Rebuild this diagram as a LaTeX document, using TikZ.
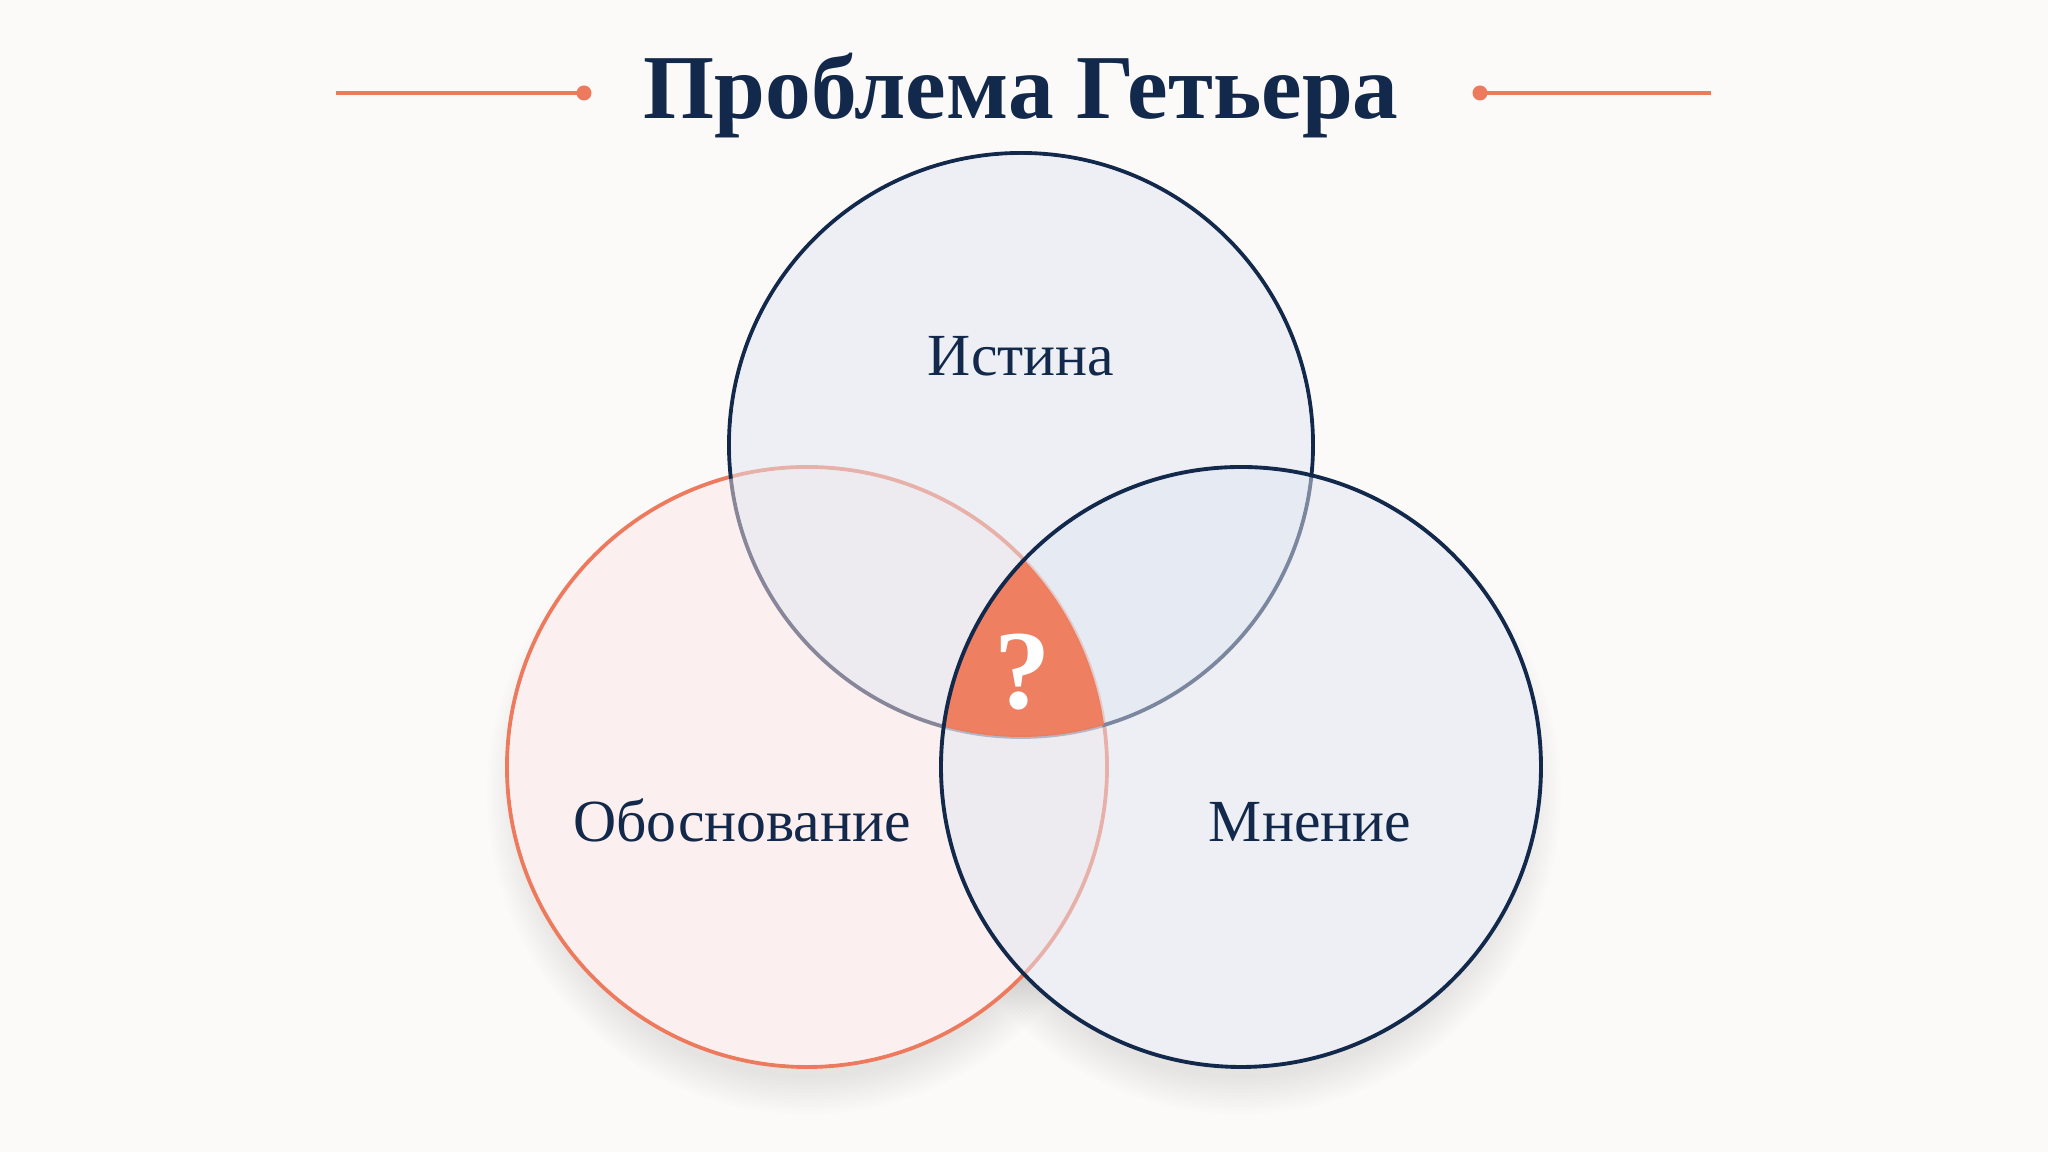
\documentclass[tikz,border=0pt]{standalone}
\usepackage{fontspec}
\setmainfont{Liberation Serif}

\definecolor{navy}{HTML}{13294B}
\definecolor{coral}{HTML}{EE7A5E}
\definecolor{paper}{HTML}{FBFAF8}
\definecolor{mistfill}{HTML}{E1E6F2}
\definecolor{blushfill}{HTML}{FBE6E8}

\begin{document}
\begin{tikzpicture}[
    ring/.style={line width=1.1pt},
    label/.style={text=navy,font=\fontsize{17}{20}\selectfont,anchor=base},
    rule/.style={line width=0.9pt,color=coral}
  ]
    \useasboundingbox (0,0) rectangle (20.48,11.52);
    \fill[paper] (0,0) rectangle (20.48,11.52); % background

    \coordinate (ctop)   at (10.21,7.07); % circle centres
    \coordinate (cleft)  at ( 8.07,3.85);
    \coordinate (cright) at (12.41,3.85);

    % Soft shadows under the two lower circles
    \foreach \r in {0,0.035,...,0.38} {
      \fill[black,opacity=0.008] ( 8.07,3.58) circle (2.85+\r);
      \fill[black,opacity=0.008] (12.41,3.58) circle (2.85+\r);
    }
    \fill[paper] (cleft) circle (3.0);
    \fill[paper] (cright) circle (3.0);

    \draw[ring,color=coral] (cleft) circle (3.0); % strokes that sit under the fills
    \draw[ring,color=navy]  (ctop) circle (2.92);

    \fill[blushfill,fill opacity=0.5] (cleft) circle (2.98); % the three sets
    \fill[mistfill,fill opacity=0.5]  (ctop) circle (2.90);
    \fill[mistfill,fill opacity=0.5]  (cright) circle (2.98);

    \begin{scope} % common part of the three circles
      \clip (ctop) circle (2.92);
      \clip (cleft) circle (3.0);
      \fill[coral!95!orange,fill opacity=0.95] (cright) circle (3.0);
    \end{scope}

    \draw[ring,color=navy] (cright) circle (3.0);

    % Labels
    \node[label] (truth)  at (10.21,7.76) {Истина};
    \node[label] (justif) at ( 7.42,3.10) {Обоснование};
    \node[label] (belief) at (13.10,3.10) {Мнение};
    \node[text=white,font=\bfseries\fontsize{32}{34}\selectfont] (qmark) at (10.23,4.80) {?};

    % Title with the two rules
    \node[text=navy,font=\bfseries\fontsize{26}{29}\selectfont,anchor=base] (title) at (10.21,10.33) {Проблема Гетьера};
    \coordinate (lstart) at ( 3.36,10.59);
    \coordinate (ldot)   at ( 5.84,10.59);
    \coordinate (rdot)   at (14.80,10.59);
    \coordinate (rend)   at (17.11,10.59);
    \draw[rule] (lstart) -- (ldot);
    \draw[rule] (rdot) -- (rend);
    \fill[coral] (ldot) circle (0.075);
    \fill[coral] (rdot) circle (0.075);
  \end{tikzpicture}
\end{document}
